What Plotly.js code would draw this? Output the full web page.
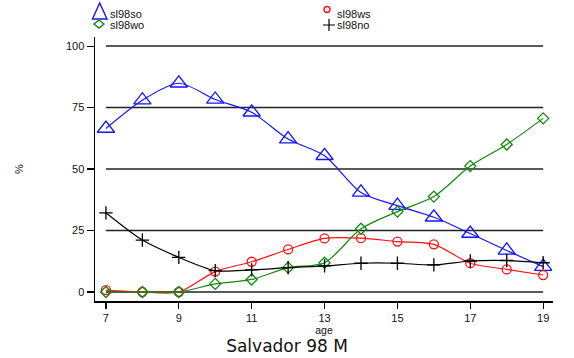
<!DOCTYPE html>
<html>
<head>
<meta charset="utf-8">
<script src="https://cdn.plot.ly/plotly-3.0.1.min.js"></script>
<style>
  html, body { margin: 0; padding: 0; background: #fff; }
  #chart { width: 574px; height: 358px; }
</style>
</head>
<body>
<div id="chart"></div>
<script>
// Shares by age, Salvador 1998, males
const ages = [7, 8, 9, 10, 11, 12, 13, 14, 15, 16, 17, 18, 19];
const sl98so = [66.5, 78.0, 84.9, 78.3, 73.1, 62.2, 55.4, 40.5, 35.1, 30.4, 23.8, 16.9, 10.3];
const sl98ws = [0.8, 0.0, 0.0, 8.3, 12.3, 17.3, 21.8, 21.9, 20.5, 19.4, 11.7, 9.2, 6.9];
const sl98wo = [0.0, 0.0, 0.0, 3.3, 5.1, 9.9, 11.9, 25.7, 32.7, 38.8, 51.2, 60.0, 70.6];
const sl98no = [32.2, 21.1, 14.1, 8.7, 9.0, 9.9, 10.6, 11.7, 11.7, 11.0, 12.6, 12.8, 11.9];

const seriesNames = ['sl98so', 'sl98ws', 'sl98wo', 'sl98no'];
const xTicks = [7, 9, 11, 13, 15, 17, 19];
const yTicks = [0, 25, 50, 75, 100];

const W = 574, H = 358;
const M = { l: 95, r: 21, t: 37, b: 57 };
const PW = W - M.l - M.r, PH = H - M.t - M.b;
// pixel -> paper helpers for the hand-placed key
const px = v => (v - M.l) / PW;
const py = v => (H - M.b - v) / PH;

const FONT = 'Liberation Sans, Arial, sans-serif';
const BLUE = '#1414ff', RED = '#ff1010', GREEN = '#118811', BLACK = '#000000';

function series(name, y, color, symbol, size) {
  return {
    x: ages, y: y, name: name, type: 'scatter', mode: 'lines+markers',
    line: { color: color, width: 1.2, shape: 'spline', smoothing: 0.8 },
    marker: { symbol: symbol, size: size, color: color, line: { color: color, width: 1.3 } },
    showlegend: false, hoverinfo: 'x+y+name'
  };
}

const traces = [
  series(seriesNames[0], sl98so, BLUE, 'triangle-up-open', 15),
  series(seriesNames[1], sl98ws, RED, 'circle-open', 9),
  series(seriesNames[2], sl98wo, GREEN, 'diamond-open', 8.5),
  series(seriesNames[3], sl98no, BLACK, 'cross-thin-open', 9.5)
];

// horizontal rules across the age span
const shapes = yTicks.map(v => ({
  type: 'line', xref: 'x', yref: 'y',
  x0: ages[0], x1: ages[ages.length - 1], y0: v, y1: v,
  line: { color: '#222', width: 1.5 }, layer: 'below'
}));

// key symbols, drawn as paper-space outlines
function pathFrom(pts, close) {
  return pts.map((p, i) => (i ? 'L' : 'M') + px(p[0]).toFixed(5) + ',' + py(p[1]).toFixed(5)).join(' ') + (close ? ' Z' : '');
}
const keyLine = c => ({ color: c, width: 1.4 });
shapes.push({ type: 'path', xref: 'paper', yref: 'paper', layer: 'above',
  path: pathFrom([[92.5, 19], [107, 19], [99.7, 3]], true), line: keyLine(BLUE) });
shapes.push({ type: 'path', xref: 'paper', yref: 'paper', layer: 'above',
  path: pathFrom([[99, 20], [104, 24], [99, 28], [94, 24]], true), line: keyLine(GREEN) });
shapes.push({ type: 'circle', xref: 'paper', yref: 'paper', layer: 'above',
  x0: px(324), x1: px(330), y0: py(12.5), y1: py(6.5), line: keyLine(RED) });
shapes.push({ type: 'path', xref: 'paper', yref: 'paper', layer: 'above',
  path: pathFrom([[323, 25], [335, 25]]) + ' ' + pathFrom([[329, 19], [329, 31]]),
  line: { color: BLACK, width: 1.2 } });

const keyLabels = [
  { label: seriesNames[0], lx: 107.5, ly: 14 },
  { label: seriesNames[2], lx: 107.5, ly: 25 },
  { label: seriesNames[1], lx: 335, ly: 14 },
  { label: seriesNames[3], lx: 335, ly: 25 }
];
const annotations = keyLabels.map(k => ({
  xref: 'paper', yref: 'paper', x: px(k.lx), y: py(k.ly),
  xanchor: 'left', yanchor: 'middle', showarrow: false,
  text: k.label, font: { family: FONT, size: 11, color: '#111' }
}));

const layout = {
  width: W, height: H,
  margin: M,
  paper_bgcolor: '#fff', plot_bgcolor: '#fff',
  font: { family: FONT, size: 11, color: '#111' },
  showlegend: false,
  title: {
    text: 'Salvador 98 M', x: 0.5, xref: 'container', xanchor: 'center',
    y: 1 - 346 / H, yref: 'container', yanchor: 'middle',
    font: { family: 'DejaVu Sans, sans-serif', size: 17, color: '#111' }
  },
  xaxis: {
    range: [6.7, 19.27], tickvals: xTicks, ticktext: xTicks.map(String),
    showgrid: false, zeroline: false, showline: true, linecolor: '#000', linewidth: 1.5,
    ticks: 'outside', ticklen: 6, tickwidth: 1.2, tickcolor: '#000',
    tickfont: { family: FONT, size: 11, color: '#111' },
    title: { text: 'age', standoff: 0, font: { family: FONT, size: 10.5, color: '#111' } },
    fixedrange: true
  },
  yaxis: {
    range: [-3.66, 103.7], tickvals: yTicks, ticktext: yTicks.map(String),
    showgrid: false, zeroline: false, showline: true, linecolor: '#000', linewidth: 1.5,
    ticks: 'outside', ticklen: 7, tickwidth: 1.2, tickcolor: '#000',
    tickfont: { family: FONT, size: 11, color: '#111' },
    title: { text: '%', standoff: 40, font: { family: FONT, size: 11, color: '#111' } },
    automargin: false, fixedrange: true
  },
  shapes: shapes,
  annotations: annotations
};

Plotly.newPlot('chart', traces, layout, { displayModeBar: false, staticPlot: true });
</script>
</body>
</html>
